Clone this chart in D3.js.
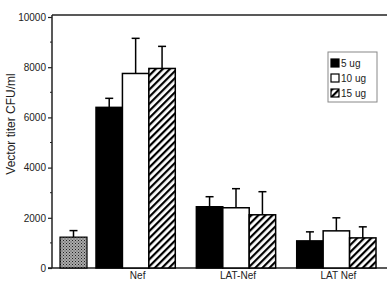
<!DOCTYPE html>
<html>
<head>
<meta charset="utf-8">
<script src="https://cdn.jsdelivr.net/npm/d3@7"></script>
<style>
body { margin: 0; background: #fff; }
svg { display: block; font-family: "Liberation Sans", Arial, sans-serif; }
</style>
</head>
<body>
<div id="chart"></div>
<script>
// values
var groups = ["Nef", "LAT-Nef", "LAT  Nef"];
var doses = ["5 ug", "10 ug", "15 ug"];
var means = [
  [6400, 7750, 7950],
  [2440, 2400, 2120],
  [1080, 1480, 1200]
];
var errs = [
  [360, 1400, 880],
  [400, 760, 920],
  [360, 520, 440]
];
var controlLabel = ["control"];
var controlMean = [1230];
var controlErr = [260];
var yTicks = [0, 2000, 4000, 6000, 8000, 10000];

var W = 387, H = 281;
var svg = d3.select("#chart").append("svg").attr("width", W).attr("height", H);

var defs = svg.append("defs");
var hatch = defs.append("pattern").attr("id", "hatch")
  .attr("patternUnits", "userSpaceOnUse").attr("width", 5).attr("height", 5)
  .attr("patternTransform", "rotate(45)");
hatch.append("rect").attr("width", 5).attr("height", 5).attr("fill", "#fff");
hatch.append("rect").attr("width", 2.2).attr("height", 5).attr("fill", "#000");

var stip = defs.append("pattern").attr("id", "stipple")
  .attr("patternUnits", "userSpaceOnUse").attr("width", 3).attr("height", 3);
stip.append("rect").attr("width", 3).attr("height", 3).attr("fill", "#aaa");
stip.append("rect").attr("width", 1).attr("height", 1).attr("fill", "#222");
stip.append("rect").attr("x", 1.5).attr("y", 1.5).attr("width", 1).attr("height", 1).attr("fill", "#444");

var fills = { "5 ug": "#000", "10 ug": "#fff", "15 ug": "url(#hatch)" };

var y = d3.scaleLinear().domain([0, 10000]).range([268, 17]);
var x0 = d3.scaleBand().domain(groups).range([96, 376]).paddingInner(0.21).paddingOuter(0);
var x1 = d3.scaleBand().domain(doses).range([0, x0.bandwidth()]);
var xc = d3.scaleBand().domain(controlLabel).range([60, 87]);

// frame line on top
svg.append("line").attr("x1", 52).attr("x2", W).attr("y1", 15).attr("y2", 15)
  .attr("stroke", "#222").attr("stroke-width", 1.5);

// y axis
var yAxis = d3.axisLeft(y).tickValues(yTicks).tickSize(4).tickFormat(d3.format("d"));
var gy = svg.append("g").attr("transform", "translate(52,0)").call(yAxis);
gy.select(".domain").attr("stroke", "#222").attr("stroke-width", 1.5)
  .attr("d", "M0," + y(0) + "V15");
gy.selectAll(".tick line").attr("stroke", "#222").attr("stroke-width", 1.2);
gy.selectAll(".tick text").attr("font-size", 10).attr("fill", "#222").attr("x", -6);
var minor = d3.range(1000, 10000, 2000);
gy.selectAll(".minor").data(minor).enter().append("line")
  .attr("x1", -2).attr("x2", 0).attr("y1", function(d) { return y(d); }).attr("y2", function(d) { return y(d); })
  .attr("stroke", "#222");

// x axis line
svg.append("line").attr("x1", 48).attr("x2", W).attr("y1", y(0)).attr("y2", y(0))
  .attr("stroke", "#222").attr("stroke-width", 1.5);

svg.append("text").text("Vector titer CFU/ml")
  .attr("transform", "translate(15,124) rotate(-90)")
  .attr("text-anchor", "middle").attr("font-size", 12).attr("fill", "#222");

function errBar(g, cx, top, e) {
  g.append("line").attr("x1", cx).attr("x2", cx).attr("y1", y(top)).attr("y2", y(top + e))
    .attr("stroke", "#000").attr("stroke-width", 1.5);
  g.append("line").attr("x1", cx - 4).attr("x2", cx + 4).attr("y1", y(top + e)).attr("y2", y(top + e))
    .attr("stroke", "#000").attr("stroke-width", 1.5);
}

// control bar
var gc = svg.append("g");
gc.append("rect").attr("x", xc(controlLabel[0])).attr("width", xc.bandwidth())
  .attr("y", y(controlMean[0])).attr("height", y(0) - y(controlMean[0]))
  .attr("fill", "url(#stipple)").attr("stroke", "#000").attr("stroke-width", 1.2);
errBar(gc, xc(controlLabel[0]) + xc.bandwidth() / 2, controlMean[0], controlErr[0]);

// grouped bars
groups.forEach(function(gname, gi) {
  var g = svg.append("g").attr("transform", "translate(" + x0(gname) + ",0)");
  doses.forEach(function(dname, di) {
    var v = means[gi][di];
    g.append("rect").attr("x", x1(dname)).attr("width", x1.bandwidth())
      .attr("y", y(v)).attr("height", y(0) - y(v))
      .attr("fill", fills[dname]).attr("stroke", "#000").attr("stroke-width", 1.5);
  });
  doses.forEach(function(dname, di) {
    errBar(g, x1(dname) + x1.bandwidth() / 2, means[gi][di], errs[gi][di]);
  });
  svg.append("text").text(gname).attr("x", x0(gname) + x0.bandwidth() / 2 + 2).attr("y", 279)
    .attr("text-anchor", "middle").attr("font-size", 10).attr("fill", "#222");
});

// legend
var lg = svg.append("g").attr("transform", "translate(328,52)");
lg.append("rect").attr("width", 49).attr("height", 50).attr("fill", "#fff")
  .attr("stroke", "#888").attr("stroke-width", 1);
doses.forEach(function(dname, i) {
  var row = lg.append("g").attr("transform", "translate(3," + (7 + i * 15) + ")");
  row.append("rect").attr("width", 8).attr("height", 8).attr("fill", fills[dname])
    .attr("stroke", "#000").attr("stroke-width", 1.2);
  row.append("text").text(dname).attr("x", 10).attr("y", 8)
    .attr("font-size", 10).attr("fill", "#222");
});
</script>
</body>
</html>
